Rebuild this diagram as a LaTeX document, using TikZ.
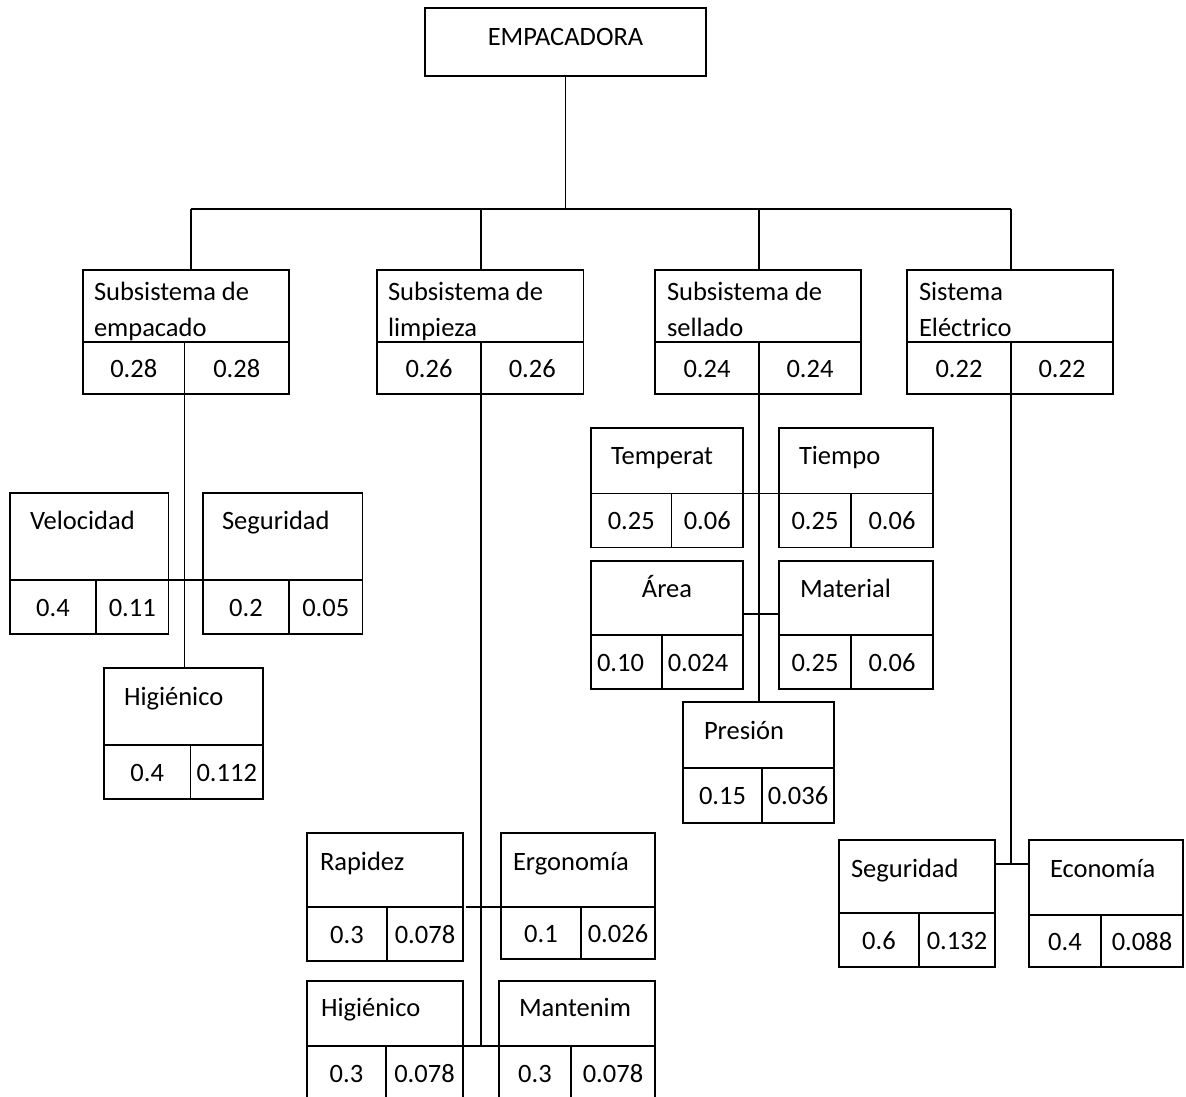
\documentclass[tikz,border=0pt]{standalone}
\usepackage{fontspec}
\setmainfont{Carlito}

% A criterion box: heading part on top, two value cells below.
% #1 name, #2 left, #3 top, #4 right, #5 split line, #6 bottom, #7 cell divider, #8 #9 values
\newcommand{\critbox}[9]{%
  \node[boxpart, minimum width={#4-#2}, minimum height={#5-#3}] (#1) at (#2,#3) {};
  \node[valcell, minimum width={#7-#2}, minimum height={#6-#5}] (#1-l) at (#2,#5) {#8};
  \node[valcell, minimum width={#4-#7}, minimum height={#6-#5}] (#1-r) at (#7,#5) {#9};}

\begin{document}
\begin{tikzpicture}[x=1pt, y=-1pt,
  boxpart/.style={draw, rectangle, line width=1.9pt, inner sep=0pt, outer sep=0pt, anchor=north west},
  valcell/.style={boxpart, font=\fontsize{26.5}{36}\selectfont, text height=18pt, text depth=0pt},
  lbl/.style={inner sep=0pt, outer sep=0pt, anchor=base west, font=\fontsize{26.5}{36}\selectfont},
  link/.style={line width=1.9pt}]

\useasboundingbox (0,0) rectangle (1186,1096);
\clip (0,0) rectangle (1186,1096);

% root
\node[boxpart, minimum width=281, minimum height=68] (top) at (425,8) {};
\node[lbl, anchor=base] (top-t) at (565.5,45) {EMPACADORA};

% subsystems
\critbox{emp}{83}{270}{289}{342}{394}{184.5}{0.28}{0.28}
\critbox{lim}{377}{270}{583.5}{342}{394}{481}{0.26}{0.26}
\critbox{sel}{655}{270}{861}{342}{394}{759}{0.24}{0.24}
\critbox{sis}{907}{270}{1113}{342}{394}{1011}{0.22}{0.22}

\node[lbl] (emp-t1) at (94,300) {Subsistema de};
\node[lbl] (emp-t2) at (94,336) {empacado};
\node[lbl] (lim-t1) at (388,300) {Subsistema de};
\node[lbl] (lim-t2) at (388,336) {limpieza};
\node[lbl] (sel-t1) at (667,300) {Subsistema de};
\node[lbl] (sel-t2) at (667,336) {sellado};
\node[lbl] (sis-t1) at (919,300) {Sistema};
\node[lbl] (sis-t2) at (919,336) {Eléctrico};

% packing criteria
\critbox{vel}{10}{493}{168.5}{580}{634}{96}{0.4}{0.11}
\critbox{seg}{203}{493}{362.5}{580}{634}{289}{0.2}{0.05}
\critbox{hig}{104}{668}{263}{745}{799}{190.5}{0.4}{0.112}
\node[lbl] (vel-t) at (30,529) {Velocidad};
\node[lbl] (seg-t) at (222,529) {Seguridad};
\node[lbl] (hig-t) at (124,705) {Higiénico};

% cleaning criteria
\critbox{rap}{307}{833}{463}{907}{961}{387}{0.3}{0.078}
\critbox{erg}{501}{833}{655}{907}{959}{581}{0.1}{0.026}
\critbox{hgl}{307}{981}{463}{1046}{1100}{386}{0.3}{0.078}
\critbox{man}{499}{981}{655}{1046}{1100}{571}{0.3}{0.078}
\node[lbl] (rap-t) at (320,870) {Rapidez};
\node[lbl] (erg-t) at (513,870) {Ergonomía};
\node[lbl] (hgl-t) at (321,1016.7) {Higiénico};
\node[lbl] (man-t) at (519,1016.7) {Mantenim};

% sealing criteria
\critbox{tem}{591}{428}{743}{493.5}{547.5}{671.5}{0.25}{0.06}
\critbox{tie}{779}{428}{933}{493.5}{547.5}{851}{0.25}{0.06}
\critbox{are}{591}{561}{743}{635}{689}{662}{\hspace*{-12pt}0.10}{\hspace*{-9pt}0.024}
\critbox{mat}{779}{561}{933}{635}{689}{851}{0.25}{0.06}
\critbox{pre}{683}{702}{834}{768}{823}{762}{0.15}{0.036}
\node[lbl] (tem-t) at (611,464) {Temperat};
\node[lbl] (tie-t) at (799,464) {Tiempo};
\node[lbl, anchor=base] (are-t) at (667,597) {Área};
\node[lbl] (mat-t) at (800,597) {Material};
\node[lbl] (pre-t) at (704,739) {Presión};

% electrical criteria
\critbox{sgd}{839}{840}{995}{913}{967}{919}{0.6}{0.132}
\critbox{eco}{1029}{840}{1183}{915}{967}{1101}{0.4}{0.088}
\node[lbl] (sgd-t) at (851,877) {Seguridad};
\node[lbl] (eco-t) at (1050,877) {Economía};

% root to subsystems
\coordinate (b1) at (191,208.7);
\coordinate (b4) at (1011,208.7);
\draw[link] (top.south) -- (top.south |- b1);
\draw[link] (b1) -- (b4);
\draw[link] (b1) -- (b1 |- emp.north);
\draw[link] (lim-l.north east |- b1) -- (lim-l.north east |- lim.north);
\draw[link] (sel-l.north east |- b1) -- (sel-l.north east |- sel.north);
\draw[link] (b4) -- (b4 |- sis.north);

% packing branch
\draw[link] (emp-l.south east) -- (emp-l.south east |- hig.north);
\draw[link] (vel.south east) -- (seg.south west);

% cleaning branch
\draw[link] (lim-l.south east) -- (lim-l.south east |- hgl.south);
\draw[link] ([xshift=3pt]rap.south east) -- (erg.south west);
\draw[link] (hgl.south east) -- (man.south west);

% sealing branch
\draw[link] (sel-l.south east) -- (sel-l.south east |- pre.north);
\draw[link] (tem.south east) -- (tie.south west);
\coordinate (am) at (761,614);
\draw[link] (am -| are.east) -- (am -| mat.west);

% electrical branch
\coordinate (se) at (1011,864);
\draw[link] (sis-l.south east) -- (se);
\draw[link] (se -| sgd.east) -- (se -| eco.west);

\end{tikzpicture}
\end{document}
